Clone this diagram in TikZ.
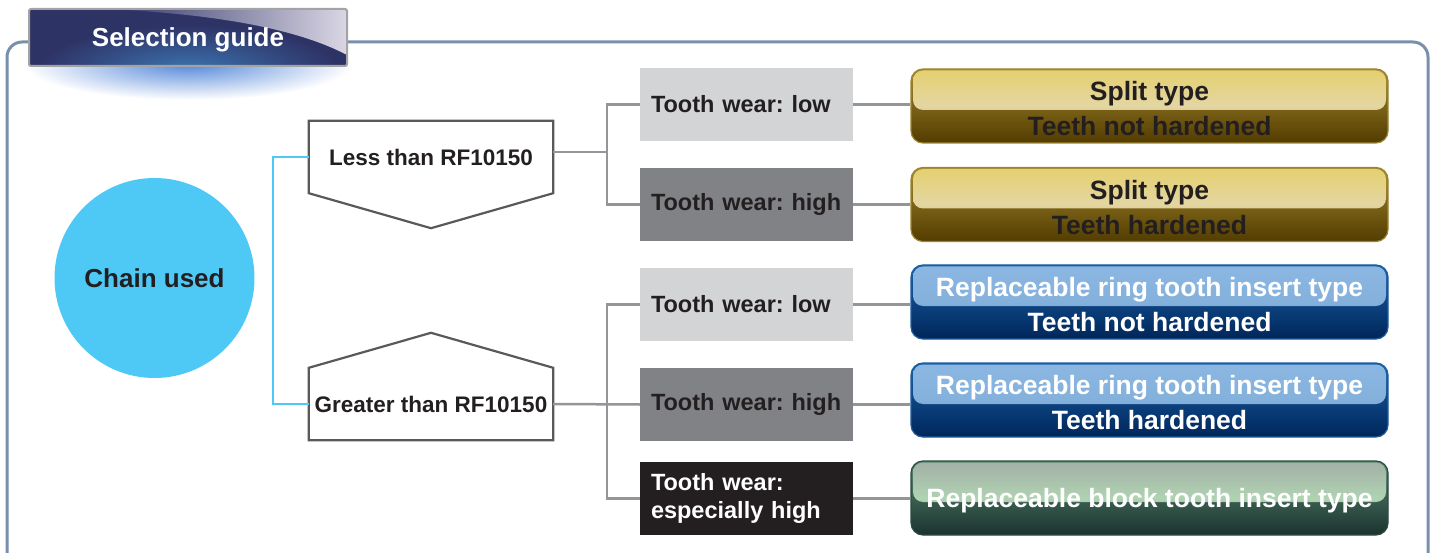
\documentclass[tikz,border=0pt]{standalone}
\usepackage{fontspec}
\setmainfont{Liberation Sans}
\usetikzlibrary{calc}
\definecolor{cyanC}{HTML}{4EC9F5}
\definecolor{wearLight}{HTML}{D3D4D6}
\definecolor{wearMid}{HTML}{808285}
\definecolor{wearDark}{HTML}{231F20}
\definecolor{textDark}{HTML}{231F20}
\definecolor{lineGray}{HTML}{939598}
\definecolor{pentGray}{HTML}{58595B}
\definecolor{frameBlue}{HTML}{7890AE}
\definecolor{navy}{HTML}{2E3366}
\definecolor{tabBlue}{HTML}{3C74B0}
\definecolor{sheen}{HTML}{DAD6E4}
\definecolor{tabBorder}{HTML}{A3A3A3}
\definecolor{glowBlue}{HTML}{5588DA}
\definecolor{goldBorder}{HTML}{9C8430}
\definecolor{goldHiTop}{HTML}{E4D06E}
\definecolor{goldHiMid}{HTML}{E4D6A2}
\definecolor{goldHiBot}{HTML}{B49C5C}
\definecolor{goldTop}{HTML}{A88A30}
\definecolor{goldBot}{HTML}{523C00}
\definecolor{blueBorder}{HTML}{1D5E9E}
\definecolor{blueHiTop}{HTML}{8BB7E2}
\definecolor{blueHiMid}{HTML}{84B0DC}
\definecolor{blueHiBot}{HTML}{5A8CC6}
\definecolor{blueTop}{HTML}{1A62AA}
\definecolor{blueBot}{HTML}{00265A}
\definecolor{greenBorder}{HTML}{2A4C40}
\definecolor{greenHiTop}{HTML}{A2B0A6}
\definecolor{greenHiMid}{HTML}{B0D2B2}
\definecolor{greenHiBot}{HTML}{7CA486}
\definecolor{greenTop}{HTML}{5A8C72}
\definecolor{greenBot}{HTML}{1B322F}
\newcommand\titlefont{\bfseries\fontsize{26}{30}\selectfont}
\newcommand\chainfont{\bfseries\fontsize{26}{30}\selectfont}
\newcommand\wearfont{\bfseries\fontsize{23.5}{28}\selectfont}
\newcommand\rffont{\bfseries\fontsize{22.5}{26}\selectfont}
\newcommand\resfont{\bfseries\fontsize{26.5}{35}\selectfont}
\newcommand\lift{\rule{0pt}{25pt}}
\tikzset{
  conn/.style={draw=lineGray, line width=2.5pt},
  bracket/.style={draw=cyanC, line width=2.5pt},
  pent/.style={draw=pentGray, line width=2.2pt, line join=miter},
  frame/.style={draw=frameBlue, line width=3pt, rounded corners=15pt},
  rfbox/.style={minimum width=244pt, minimum height=72pt, inner sep=0pt, font=\rffont, text=textDark, text depth=0pt},
  wear/.style={minimum width=213pt, minimum height=73pt, inner xsep=11pt, inner ysep=0pt,
    text width=191pt, align=left, font=\wearfont},
  wlow/.style={wear, fill=wearLight, text=textDark},
  whigh/.style={wear, fill=wearMid, text=textDark},
  wvery/.style={wear, fill=wearDark, text=white},
  res/.style={rounded corners=12pt, minimum width=477pt, minimum height=74pt, inner sep=0pt,
    align=center, font=\resfont, line width=1.2pt},
  hl/.style n args={3}{path picture={\shade[top color=#1, bottom color=#3, middle color=#2, rounded corners=10pt]
    ([xshift=2pt,yshift=-1.5pt]path picture bounding box.north west) rectangle
    ([xshift=-2pt,yshift=-4pt]path picture bounding box.east);}},
  gold/.style={res, draw=goldBorder, top color=goldTop, bottom color=goldBot, text=textDark,
    hl={goldHiTop}{goldHiMid}{goldHiBot}},
  blue/.style={res, draw=blueBorder, top color=blueTop, bottom color=blueBot, text=white,
    hl={blueHiTop}{blueHiMid}{blueHiBot}},
  green/.style={res, draw=greenBorder, top color=greenTop, bottom color=greenBot, text=white,
    hl={greenHiTop}{greenHiMid}{greenHiBot}},
  titletab/.style={draw=tabBorder, line width=2pt, rounded corners=2pt, minimum width=318pt,
    minimum height=57pt, inner sep=0pt, text=white, font=\titlefont, text depth=0pt},
}
\begin{document}
\frenchspacing
\begin{tikzpicture}[x=1pt,y=-1pt]
\useasboundingbox (0,0) rectangle (1434,553);
% glow under the tab
\shade[inner color=glowBlue, outer color=white] (188,64) ellipse [x radius=165, y radius=36];
% frame
\draw[frame] (7,556) -- (7,42) -- (1428,42) -- (1428,556);
% title tab background
\begin{scope}
  \clip (29,9) rectangle (347,66);
  \fill[navy] (29,9) rectangle (347,66);
  \shade[inner color=tabBlue, outer color=navy] (188,70) ellipse [x radius=150, y radius=45];
  \shade[left color=navy, right color=sheen] (105,9) .. controls (220,14) and (300,30) .. (347,55) -- (347,9) -- cycle;
\end{scope}
\node[titletab] (title) at (188,37.5) {Selection guide};

% chain used
\node[circle, fill=cyanC, minimum size=200pt, inner sep=0pt, font=\chainfont, text=textDark] (chain) at (154.5,278) {Chain used};

% RF boxes
\node[rfbox] (less) at (431,157) {Less than RF10150};
\draw[pent] (less.south west) -- (less.north west) -- (less.north east) -- (less.south east) -- ($(less.south)+(0,35)$) -- cycle;
\node[rfbox] (greater) at (431,404) {Greater than RF10150};
\draw[pent] (greater.north west) -- (greater.south west) -- (greater.south east) -- (greater.north east) -- ($(greater.north)+(0,-35)$) -- cycle;

\draw[bracket] (less.west) -- ++(-36,0) |- (greater.west);

% tooth wear boxes
\node[wlow]  (tw1) at (746.5,104.5) {Tooth wear: low};
\node[whigh] (tw2) at (746.5,204.5) {Tooth wear: high};
\node[wlow]  (tw3) at (746.5,304.5) {Tooth wear: low};
\node[whigh] (tw4) at (746.5,404.5) {Tooth wear: high};
\node[wvery] (tw5) at (746.5,498.5) {Tooth wear:\\especially high};

% result boxes
\node[gold]  (r1) at (1149.5,106) {\lift Split type\\Teeth not hardened};
\node[gold]  (r2) at (1149.5,204.5) {\lift Split type\\Teeth hardened};
\node[blue]  (r3) at (1149.5,302) {\lift Replaceable ring tooth insert type\\Teeth not hardened};
\node[blue]  (r4) at (1149.5,400) {\lift Replaceable ring tooth insert type\\Teeth hardened};
\node[green] (r5) at (1149.5,498) {\lift Replaceable block tooth insert type};

% connectors
\coordinate (ja) at ($([yshift=5pt]less.east)+(54,0)$);
\draw[conn] ([yshift=5pt]less.east) -- (ja);
\draw[conn] (tw1.west) -| (ja) |- (tw2.west);
\coordinate (jb) at ($(greater.east)+(54,0)$);
\draw[conn] (greater.east) -- (tw4.west);
\draw[conn] (tw3.west) -| (jb) |- (tw5.west);

\draw[conn] (tw1.east) -- (tw1.east -| r1.west);
\draw[conn] (tw2.east) -- (tw2.east -| r2.west);
\draw[conn] (tw3.east) -- (tw3.east -| r3.west);
\draw[conn] (tw4.east) -- (tw4.east -| r4.west);
\draw[conn] (tw5.east) -- (tw5.east -| r5.west);
\end{tikzpicture}
\end{document}
